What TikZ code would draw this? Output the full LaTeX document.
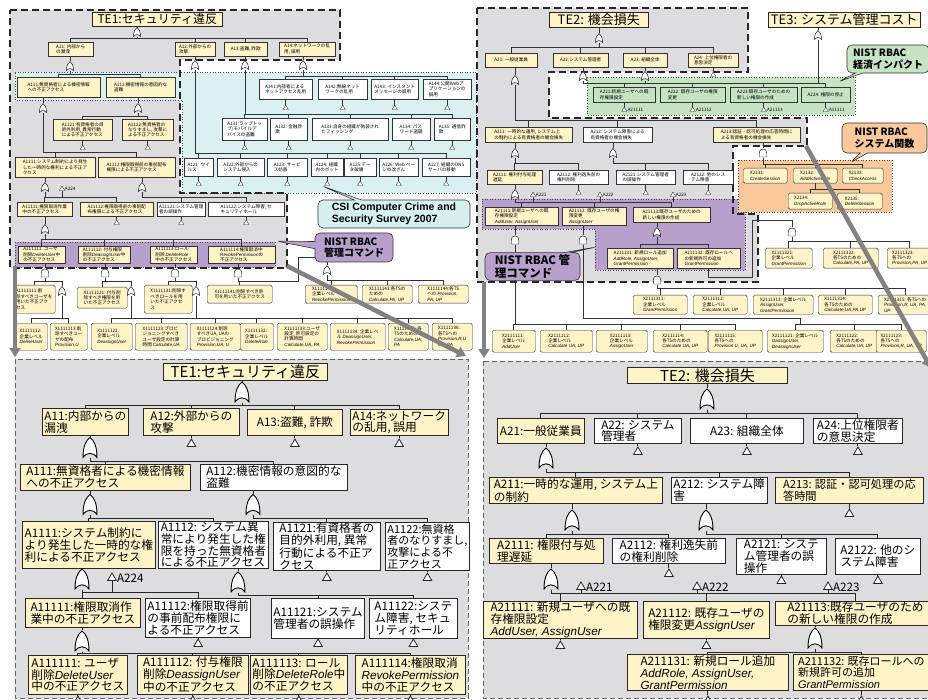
\documentclass[tikz,border=0pt]{standalone}
\usepackage{fontspec}
\setmainfont{Noto Sans CJK JP}
\newfontfamily\lsans{Liberation Sans}
\newcommand{\rbac}[1]{{\lsans\itshape #1}}
\usetikzlibrary{shapes.geometric, shapes.callouts, arrows.meta, positioning, calc}
\definecolor{regiongray}{RGB}{221,221,223}
\definecolor{regionblue}{RGB}{219,240,241}
\definecolor{regionpurple}{RGB}{184,160,204}
\definecolor{regiongreen}{RGB}{198,228,196}
\definecolor{regionorange}{RGB}{249,201,156}
\definecolor{boxyellow}{RGB}{255,244,200}
\definecolor{calloutblue}{RGB}{214,239,240}
\definecolor{arrowgray}{RGB}{130,130,130}

\begin{document}
\begin{tikzpicture}[x=1pt, y=-1pt,
  wh/.style 2 args={minimum width=#1pt, minimum height=#2pt},
  ov/.style={draw=black!80, line width=.4pt, fill=white, font=\fontsize{4.6}{5.4}\selectfont, inner sep=.8pt, align=left, anchor=north west},
  ovy/.style={ov, fill=boxyellow},
  ovg/.style={ov, fill=regiongreen},
  ovx/.style={ov, fill=boxyellow, rounded corners=1.5pt},
  ttl/.style={draw=black!85, line width=.6pt, fill=boxyellow, font=\fontsize{12}{13}\selectfont, inner sep=1pt, align=left, anchor=north west},
  ttlb/.style={ttl, line width=.9pt, font=\fontsize{15}{16}\selectfont},
  bx/.style={draw=black!85, line width=.8pt, fill=white, font=\fontsize{11.7}{11.8}\selectfont, inner xsep=2pt, inner ysep=.5pt, align=left, anchor=north west},
  bxy/.style={bx, fill=boxyellow},
  ln/.style={draw=black!80, line width=.45pt},
  lnb/.style={draw=black!85, line width=.9pt},
  orshape/.style={inner sep=0pt, draw, draw opacity=0, path picture={
    \draw[fill=white, draw opacity=1, line width=#1]
      let \p1=([shift={(.5pt,.5pt)}]path picture bounding box.south west),
          \p2=([shift={(-.5pt,-.5pt)}]path picture bounding box.north east) in
      (\x1,\y1) .. controls (\x1,{\y1+0.55*(\y2-\y1)}) and ({\x1+0.2*(\x2-\x1)},{\y1+0.85*(\y2-\y1)}) .. ({0.5*(\x1+\x2)},\y2)
      .. controls ({\x2-0.2*(\x2-\x1)},{\y1+0.85*(\y2-\y1)}) and (\x2,{\y1+0.55*(\y2-\y1)}) .. (\x2,\y1)
      .. controls ({\x2-0.3*(\x2-\x1)},{\y1+0.28*(\y2-\y1)}) and ({\x1+0.3*(\x2-\x1)},{\y1+0.28*(\y2-\y1)}) .. cycle;}},
  andshape/.style={inner sep=0pt, draw, draw opacity=0, path picture={
    \draw[fill=white, draw opacity=1, line width=#1]
      let \p1=([shift={(.5pt,.5pt)}]path picture bounding box.south west),
          \p2=([shift={(-.5pt,-.5pt)}]path picture bounding box.north east) in
      (\x1,\y1) -- (\x1,{\y1+0.45*(\y2-\y1)}) .. controls (\x1,{\y1+0.9*(\y2-\y1)}) and ({\x1+0.2*(\x2-\x1)},\y2) .. ({0.5*(\x1+\x2)},\y2)
      .. controls ({\x2-0.2*(\x2-\x1)},\y2) and (\x2,{\y1+0.9*(\y2-\y1)}) .. (\x2,{\y1+0.45*(\y2-\y1)}) -- (\x2,\y1) -- cycle;}},
  ogs/.style={orshape=.45pt, minimum width=8pt, minimum height=10pt},
  ogl/.style={orshape=.9pt, minimum width=15pt, minimum height=21pt},
  ags/.style={andshape=.45pt, minimum width=8pt, minimum height=9pt},
  trs/.style={regular polygon, regular polygon sides=3, draw=black!80, fill=white, inner sep=0pt, minimum size=6pt, line width=.4pt},
  trl/.style={regular polygon, regular polygon sides=3, draw=black!85, fill=white, inner sep=0pt, minimum size=10pt, line width=.8pt},
  tlab/.style={font=\fontsize{4.6}{5}\selectfont, inner sep=.3pt},
  tlabb/.style={font=\fontsize{11.7}{12}\selectfont, inner sep=.5pt},
  bubble/.style={rectangle callout, rounded corners=5pt, draw=black!80, line width=.6pt, align=left, inner sep=2pt, font=\bfseries\fontsize{10}{11.5}\selectfont},
  zoomarrow/.style={draw=arrowgray, line width=4.5pt, -{Triangle[width=11pt,length=9pt]}}
]
\fill[white] (0,0) rectangle (928,700);
\useasboundingbox (0,0) rectangle (928,700);

% ---------- overview TE1 ----------
\fill[regiongray] (10,10) -- (340,10) -- (340,60) -- (180,60) -- (180,193) -- (287,193) -- (287,268) -- (10,268) -- cycle;
\filldraw[fill=regionblue, draw=black!70, line width=.6pt, dotted] (15,72) -- (476,72) -- (476,193) -- (182,193) -- (182,100) -- (15,100) -- cycle;
\filldraw[fill=regionpurple, draw=black!70, line width=.6pt, dotted] (15,242) rectangle (275,267);
\draw[black!85, line width=1.8pt, dash pattern=on 7pt off 4pt] (10,10) -- (340,10) -- (340,60) -- (180,60) -- (180,193) -- (287,193) -- (287,268) -- (10,268) -- cycle;

\node[ttl, wh={130}{14}] (te1o) at (92,12) {TE1:セキュリティ違反};
\node[ogs] (g1o) at (137,32) {};
\node[ovy, wh={45}{14}] (a11o) at (48,42) {A11: 内部から\\の漏洩};
\node[ovy, wh={40}{14}] (a12o) at (175,42) {A12:外部からの\\攻撃};
\node[ovy, wh={43}{14}] (a13o) at (224,42) {A13:盗難, 詐欺};
\node[ovy, wh={56}{14}] (a14o) at (279,42) {A14:ネットワークの乱\\用, 誤用};
\draw[ln] (te1o.south -| g1o) -- (g1o.north);
\foreach \c in {a11o,a12o,a13o,a14o} \draw[ln] (g1o.south) -- ++(0,1) -| (\c.north);

\node[ogs] (g11o) at (70,66) {};
\node[ogs] (g12o) at (195,65) {};
\node[ogs] (g13o) at (245,65) {};
\node[ogs] (g14o) at (303,65) {};
\foreach \a/\g in {a11o/g11o,a12o/g12o,a13o/g13o,a14o/g14o} \draw[ln] (\a.south -| \g) -- (\g.north);

\node[ovy, wh={83}{20}] (a111o) at (17,77) {A111:無資格者による機密情報\\への不正アクセス};
\node[ovy, wh={69}{20}] (a112o) at (106,77) {A112:機密情報の意図的な\\盗難};
\foreach \c in {a111o,a112o} \draw[ln] (g11o.south) -- ++(0,3) -| (\c.north);
\node[ogs] (g111o) at (43,108) {};
\node[ogs] (g112o) at (138,108) {};
\draw[ln] (a111o.south -| g111o) -- (g111o.north);
\draw[ln] (a112o.south -| g112o) -- (g112o.north);
\node[ovy, wh={59}{21}] (a1121o) at (53,119) {A1121:有資格者の目\\的外利用, 異常行動\\による不正アクセス};
\node[ovy, wh={51}{21}] (a1122o) at (122,119) {A1122:無資格者の\\なりすまし, 攻撃に\\よる不正アクセス};
\foreach \c in {a1121o,a1122o} \draw[ln] (g112o.south) -- ++(0,3) -| (\c.north);
\node[trs] (ta1121o) at (a1121o.south |- 0,148) {};
\node[trs] (ta1122o) at (a1122o.south |- 0,148) {};
\node[ovy, wh={80}{20}] (a1111o) at (15,157) {A1111:システム制約により発生\\した一時的な権利による不正ア\\クセス};
\node[ovy, wh={77}{20}] (a1112o) at (98,157) {A1112:権限取得前の事前配布\\権限による不正アクセス};
\foreach \c in {a1111o,a1112o} \draw[ln] (g111o.south) -- ++(0,39) -| (\c.north);
\node[ogs] (g1111o) at (45,187) {};
\node[ogs] (g1112o) at (142,187) {};
\draw[ln] (a1111o.south -| g1111o) -- (g1111o.north);
\draw[ln] (a1112o.south -| g1112o) -- (g1112o.north);
\node[trs] (ta224o) at (62,189) {};
\node[tlab, right=.5pt of ta224o] (la224o) {A224};
\node[ovy, wh={55}{14}] (a11111o) at (17,202) {A11111:権限取消作業\\中の不正アクセス};
\node[ovy, wh={73}{14}] (a11112o) at (80,202) {A11112:権限取得前の事前配\\布権限による不正アクセス};
\node[ov, wh={48}{14}] (a11121o) at (157,202) {A11121:システム管理\\者の誤操作};
\node[ov, wh={76}{14}] (a11122o) at (208,202) {A11122:システム障害, セ\\キュリティホール};
\foreach \c in {a11111o,a11112o} \draw[ln] (g1111o.south) -- ++(0,5) -| (\c.north);
\foreach \c in {a11121o,a11122o} \draw[ln] (g1112o.south) -- ++(0,5) -| (\c.north);
\draw[ln] (ta224o.side 2) -- (ta224o.side 2 |- 0,197);
\node[trs] (ta11112o) at (a11112o.south |- 0,223) {};
\node[trs] (ta11121o) at (a11121o.south |- 0,223) {};
\node[trs] (ta11122o) at (a11122o.south |- 0,223) {};
\node[ogs] (g11111o) at (45,229) {};
\draw[ln] (a11111o.south -| g11111o) -- (g11111o.north);
\node[ovy, wh={47}{17}] (a111111o) at (18,246) {A111111: ユーザ\\削除\rbac{DeleteUser}中\\の不正アクセス};
\node[ovy, wh={52}{17}] (a111112o) at (78,246) {A111112: 付与権限\\削除\rbac{DeassignUser}中\\の不正アクセス};
\node[ovy, wh={47}{17}] (a111113o) at (150,246) {A111113:ロール\\削除 \rbac{DeleteRole}\\中の不正アクセス};
\node[ovy, wh={67}{17}] (a111114o) at (208,246) {A111114:権限取消中\\\rbac{RevokePermission}の\\不正アクセス};
\foreach \c in {a111111o,a111112o,a111113o,a111114o} \draw[ln] (g11111o.south) -- ++(0,5) -| (\c.north);

% blue region of TE1
\node[ov, wh={53}{20}] (a141o) at (259,79) {A141:内部者による\\ネットアクセス乱用};
\node[ov, wh={49}{20}] (a142o) at (318,79) {A142:無線ネット\\ワークの乱用};
\node[ov, wh={47}{20}] (a143o) at (371,79) {A143: インスタント\\メッセージの誤用};
\node[ov, wh={48}{20}] (a144o) at (423,79) {A144:公開Webア\\プリケーションの\\誤用};
\foreach \c in {a141o,a142o,a143o,a144o} \draw[ln] (g14o.south) -- ++(0,6) -| (\c.north);
\node[ov, wh={45}{22}] (a131o) at (222,118) {A131:ラップトッ\\プ/モバイルデ\\バイスの盗難};
\node[ov, wh={37}{22}] (a132o) at (270,118) {A132: 金融詐\\欺};
\node[ov, wh={76}{22}] (a133o) at (312,118) {A133:自身の組織が偽装され\\たフィッシング};
\node[ov, wh={38}{22}] (a134o) at (392,118) {A134: パス\\ワード盗聴};
\node[ov, wh={36}{22}] (a135o) at (434,118) {A135: 通信詐\\欺};
\foreach \c in {a131o,a132o,a133o,a134o,a135o} \draw[ln] (g13o.south) -- ++(0,44) -| (\c.north);
\node[ov, wh={29}{18}] (a121o) at (184,158) {A121: ウイ\\ルス};
\node[ov, wh={47}{18}] (a122o) at (217,158) {A122:外部からの\\システム侵入};
\node[ov, wh={40}{18}] (a123o) at (267,158) {A123: サービ\\ス妨害};
\node[ov, wh={32}{18}] (a124o) at (311,158) {A124: 組織\\内のボット};
\node[ov, wh={32}{18}] (a125o) at (344,158) {A125:デー\\タ破壊};
\node[ov, wh={39}{18}] (a126o) at (379,158) {A126: Web ペー\\ジの改ざん};
\node[ov, wh={48}{18}] (a127o) at (422,158) {A127: 組織のDNS\\サーバの移動};
\foreach \c in {a121o,a122o,a123o,a124o,a125o,a126o,a127o} \draw[ln] (g12o.south) -- ++(0,83) -| (\c.north);
\foreach \b/\y in {a141o/108,a142o/108,a143o/108,a144o/108,a131o/148,a132o/148,a133o/148,a134o/148,a135o/148,a121o/184,a122o/184,a123o/184,a124o/184,a125o/184,a126o/184,a127o/184} {
  \node[trs] (t\b) at (\b.south |- 0,\y) {};
  \draw[ln] (\b.south) -- (t\b.corner 1);
}
\foreach \b in {a1121o,a1122o,a11112o,a11121o,a11122o} \draw[ln] (\b.south) -- (t\b.corner 1);

% gates and X events below the purple band
\node[ags] (ga111111o) at (45,273) {};
\node[ags] (ga111112o) at (105,273) {};
\node[ags] (ga111113o) at (175,273) {};
\node[ags] (ga111114o) at (238,273) {};
\foreach \g/\a in {ga111111o/a111111o,ga111112o/a111112o,ga111113o/a111113o,ga111114o/a111114o} \draw[ln] (\a.south -| \g) -- (\g.north);
\node[ogs] (gb111111o) at (62,291) {};
\node[ogs] (gb111112o) at (131,291) {};
\node[ogs] (gb111113o) at (196,291) {};
\node[ogs] (gb111114o) at (327,270) {};
\node[ovx, wh={42}{28}] (x1111111o) at (13,285) {X1111111:削\\除すべきユーザを\\用いた不正アク\\セス};
\node[ovx, wh={50}{21}] (x1111121o) at (77,287) {X1111121: 付与削\\除すべき権限を用\\いた不正アクセス};
\node[ovx, wh={48}{28}] (x1111131o) at (144,285) {X1111131:削除す\\べきロールを用\\いた不正アクセ\\ス};
\node[ovx, wh={65}{18}] (x1111141o) at (207,285) {X1111141:削除すべき許\\可を用いた不正アクセス};
\node[ovx, wh={52}{18}] (x1111142o) at (305,285) {X1111142:\\企業レベル\\\rbac{RevokePermission}};
\node[ovx, wh={50}{18}] (x1111143o) at (362,285) {X1111143:各TSの\\ための\\\rbac{Calculate,PA, UP}};
\node[ovx, wh={50}{18}] (x1111144o) at (418,285) {X1111144:各TS\\への \rbac{Provision,}\\\rbac{PA, UP}};
\foreach \c in {x1111111o,gb111111o} \draw[ln] (ga111111o.south) -- ++(0,4) -| (\c.north);
\foreach \c in {x1111121o,gb111112o} \draw[ln] (ga111112o.south) -- ++(0,4) -| (\c.north);
\foreach \c in {x1111131o,gb111113o} \draw[ln] (ga111113o.south) -- ++(0,4) -| (\c.north);
\draw[ln] (ga111114o.south) -- ++(0,4) -| (x1111141o.north);
\draw[ln] (ga111114o.south) -- ++(0,4) -- ++(60,0) |- (gb111114o.north |- 0,257) -- (gb111114o.north);
\foreach \c in {x1111142o,x1111143o,x1111144o} \draw[ln] (gb111114o.south) -- ++(0,5) -| (\c.north);
\node[ovx, wh={32}{27}] (x1111112o) at (15,323) {X1111112:\\企業レベル\\\rbac{DeleteUser}};
\node[ovx, wh={37}{27}] (x1111113o) at (50,323) {X1111113:削\\除すべきユー\\ザの配布\\\rbac{Provision,U}};
\node[ovx, wh={41}{27}] (x1111122o) at (91,323) {X1111122:\\企業レベル\\\rbac{DeassignUser}};
\node[ovx, wh={52}{27}] (x1111123o) at (135,323) {X1111123:プロビ\\ジョニングすべき\\ユーザ設定の計算\\時間 \rbac{Calculate,UA}};
\node[ovx, wh={50}{27}] (x1111124o) at (190,323) {X1111124:削除\\すべきUA, UAの\\プロビジョニング\\\rbac{Provision,UA, U}};
\node[ovx, wh={33}{27}] (x1111132o) at (240,323) {X1111132:\\企業レベル\\\rbac{DeleteRole}};
\node[ovx, wh={50}{27}] (x1111133o) at (277,323) {X1111133:ユーザ\\設定, 許可設定の\\計算時間\\\rbac{Calculate,UA, PA}};
\node[ovx, wh={55}{27}] (x1111134o) at (330,323) {X1111134: 企業レベ\\ル \rbac{DeassignUser,}\\\rbac{RevokePermission}};
\node[ovx, wh={40}{27}] (x1111135o) at (388,323) {X1111135: 各\\TSのための\\\rbac{Calculate,UA,}\\\rbac{PA}};
\node[ovx, wh={40}{27}] (x1111136o) at (432,323) {X1111136:\\各TSへの\\\rbac{Provision,R,U}\\\rbac{UA, PA}};
\foreach \c in {x1111112o,x1111113o} \draw[ln] (gb111111o.south) -- ++(0,22) -| (\c.north);
\foreach \c in {x1111122o,x1111123o,x1111124o} \draw[ln] (gb111112o.south) -- ++(0,22) -| (\c.north);
\foreach \c in {x1111132o,x1111133o,x1111134o,x1111135o,x1111136o} \draw[ln] (gb111113o.south) -- ++(0,22) -| (\c.north);

\node[bubble, fill=calloutblue, callout absolute pointer={(322,186)}, font=\lsans\bfseries\fontsize{10.5}{12}\selectfont, minimum width=152pt, minimum height=28pt] (csi) at (394,214) {CSI Computer Crime and\\Security Survey 2007};
\node[bubble, fill=regionpurple, callout absolute pointer={(276,241)}, minimum width=78pt, minimum height=29pt] (nistcmd1) at (354,247.5) {NIST RBAC\\管理コマンド};

% ---------- overview TE2 / TE3 ----------
\fill[regiongray] (477,8) -- (748,8) -- (748,72) -- (549,72) -- (549,118) -- (807,118) -- (807,146) -- (733,146) -- (733,214) -- (758,214) -- (758,282) -- (477,282) -- cycle;
\filldraw[fill=regiongreen, draw=black!70, line width=.6pt, dotted] (587,77) rectangle (855,115);
\filldraw[fill=regionpurple, draw=black!70, line width=.6pt, dotted] (482,199) -- (745,199) -- (745,270) -- (595,270) -- (595,229) -- (482,229) -- cycle;
\filldraw[fill=regionorange, draw=black!70, line width=.6pt, dotted] (738,160) rectangle (892,212);
\draw[black!85, line width=1.8pt, dash pattern=on 7pt off 4pt] (477,8) -- (748,8) -- (748,72) -- (549,72) -- (549,118) -- (807,118) -- (807,146) -- (733,146) -- (733,214) -- (758,214) -- (758,282) -- (477,282) -- cycle;

\node[ttl, wh={99}{15}, font=\fontsize{13}{14}\selectfont] (te2o) at (549,12) {TE2: 機会損失};
\node[ogs] (g2o) at (599,38) {};
\node[ovy, wh={52}{14}] (a21o) at (485,53) {A21: 一般従業員};
\node[ovy, wh={55}{14}] (a22o) at (553,53) {A22:システム管理者};
\node[ovy, wh={44}{14}] (a23o) at (623,53) {A23: 組織全体};
\node[ovy, wh={50}{14}] (a24o) at (688,53) {A24: 上位権限者の\\意思決定};
\draw[ln] (te2o.south -| g2o) -- (g2o.north);
\foreach \c in {a21o,a22o,a23o,a24o} \draw[ln] (g2o.south) -- ++(0,4) -| (\c.north);
\node[trs] (t24o) at (a24o.south |- 0,75) {};
\draw[ln] (a24o.south) -- (t24o.corner 1);
\node[ttl, wh={152}{15}, font=\fontsize{13}{14}\selectfont] (te3o) at (768,12) {TE3: システム管理コスト};
\node[ogs] (g3o) at (818,35) {};
\draw[ln] (te3o.south -| g3o) -- (g3o.north);
\draw[ln] (g3o.south) -- (g3o.south |- 0,83);
\node[ogs] (g22o) at (583,76) {};
\node[ogs] (g23o) at (645,76) {};
\draw[ln] (a22o.south -| g22o) -- (g22o.north);
\draw[ln] (a23o.south -| g23o) -- (g23o.north);
\node[ovg, wh={62}{15}] (a221o) at (593,87) {A221:新規ユーザへの既\\存権限設定};
\node[ovg, wh={65}{15}] (a222o) at (660,87) {A222: 既存ユーザの権限\\変更};
\node[ovg, wh={67}{15}] (a223o) at (730,87) {A223:既存ユーザのための\\新しい権限の作成};
\node[ovg, wh={49}{15}] (a224o) at (801,87) {A224: 権限の停止};
\foreach \c in {a221o,a222o,a223o,a224o} \draw[ln] (g22o.south) -- ++(0,2) -| (\c.north);
\draw[ln] (g23o.south) -- ++(0,2);
\foreach \b/\l in {a221o/A21111,a222o/A21112,a223o/A21113,a224o/A11111} {
  \node[trs] (t\b) at (\b.south |- 0,110) {};
  \node[tlab, right=1pt of t\b] (l\b) {\l};
  \draw[ln] (\b.south) -- (t\b.corner 1);
}

\node[ogs] (g21o) at (515,80) {};
\draw[ln] (a21o.south -| g21o) -- (g21o.north);
\node[ovy, wh={87}{15}] (a211o) at (485,127) {A211: 一時的な運用, システム上\\の制約による有資格者の機会損失};
\node[ov, wh={69}{15}] (a212o) at (583,127) {A212: システム障害による\\有資格者の機会損失};
\node[ovy, wh={87}{15}] (a213o) at (713,127) {A213:認証・認可処理の応答時間に\\よる有資格者の機会損失};
\foreach \c in {a211o,a212o,a213o} \draw[ln] (g21o.south) -- ++(0,35) -| (\c.north);
\node[ogs] (g211o) at (515,153) {};
\node[ogs] (g212o) at (613,153) {};
\node[ags] (g213o) at (763,153) {};
\foreach \a/\g in {a211o/g211o,a212o/g212o,a213o/g213o} \draw[ln] (\a.south -| \g) -- (\g.north);
\node[ovy, wh={55}{14}] (a2111o) at (487,170) {A2111: 権利付与処理\\遅延};
\node[ov, wh={59}{14}] (a2112o) at (549,170) {A2112: 権利逸失前の\\権利削除};
\node[ov, wh={59}{14}] (a2121o) at (616,170) {A2121:システム管理者\\の誤操作};
\node[ov, wh={50}{14}] (a2122o) at (683,170) {A2122: 他のシス\\テム障害};
\foreach \c in {a2111o,a2112o} \draw[ln] (g211o.south) -- ++(0,5) -| (\c.north);
\foreach \c in {a2121o,a2122o} \draw[ln] (g212o.south) -- ++(0,5) -| (\c.north);
\foreach \b in {a2112o,a2121o,a2122o} {
  \node[trs] (t\b) at (\b.south |- 0,193) {};
  \draw[ln] (\b.south) -- (t\b.corner 1);
}
\node[ovx, wh={44}{15}] (x2131o) at (743,168) {X2131:\\\rbac{CreateSession}};
\node[ovx, wh={44}{15}] (x2132o) at (793,168) {X2132:\\\rbac{AddActiveRole}};
\node[ovx, wh={41}{15}] (x2133o) at (842,168) {X2133:\\\rbac{CheckAccess}};
\node[ovx, wh={44}{16}] (x2134o) at (788,193) {X2134:\\\rbac{DropActiveRole}};
\node[ovx, wh={45}{16}] (x2135o) at (837,193) {X2135:\\\rbac{DeleteSession}};
\foreach \c in {x2131o,x2132o,x2133o} \draw[ln] (g213o.south) -- ++(0,7) -| (\c.north);
\draw[ln] (x2132o.south) -- ++(0,6) -| (x2135o.north);
\draw[ln] (x2132o.south) ++(0,6) -| (x2134o.north);

\node[ogs] (g2111o) at (515,194) {};
\draw[ln] (a2111o.south -| g2111o) -- (g2111o.north);
\node[ovy, wh={73}{18}] (a21111o) at (485,207) {A21111:新規ユーザへの既\\存権限設定\\\rbac{AddUser, AssignUser}};
\node[ovy, wh={64}{18}] (a21112o) at (562,207) {A21112: 既存ユーザの権\\限変更\\\rbac{AssignUser}};
\node[ovy, wh={77}{15}] (a21113o) at (633,207) {A21113:既存ユーザのための\\新しい権限の作成};
\foreach \c in {a21111o,a21112o,a21113o} \draw[ln] (g2111o.south) -- ++(0,3) -| (\c.north);
\foreach \n/\x/\l in {ta221o/533/A221,ta222o/600/A222,ta223o/673/A223} {
  \node[trs] (\n) at (\x,195) {};
  \node[tlab, right=.5pt of \n] (l\n) {\l};
  \draw[ln] (\n.side 2) -- (\n.side 2 |- 0,202);
}
\node[ags] (g21111o) at (515,240) {};
\node[ags] (g21112o) at (583,240) {};
\node[ogs] (g21113o) at (657,232) {};
\foreach \a/\g in {a21111o/g21111o,a21112o/g21112o,a21113o/g21113o} \draw[ln] (\a.south -| \g) -- (\g.north);
\node[ovy, wh={66}{20}] (a211131o) at (607,248) {A211131: 新規ロール追加\\\rbac{AddRole, AssignUser,}\\\rbac{GrantPermission}};
\node[ovy, wh={63}{20}] (a211132o) at (677,248) {A211132: 既存ロールへ\\の新規許可の追加\\\rbac{GrantPermission}};
\foreach \c in {a211131o,a211132o} \draw[ln] (g21113o.south) -- ++(0,7) -| (\c.north);
\node[ags] (g211131o) at (657,280) {};
\node[ags] (g211132o) at (792,232) {};
\draw[ln] (a211131o.south -| g211131o) -- (g211131o.north);
\draw[ln] (a211132o.south) -- ++(0,9) -| (752,220) -| (g211132o.north);
\node[ovx, wh={54}{19}] (x2111311o) at (633,295) {X2111311:\\企業レベル\\\rbac{GrantPermission}};
\node[ovx, wh={54}{19}] (x2111312o) at (693,295) {X2111312:\\企業レベル\\\rbac{Calculate,UA, UP}};
\node[ovx, wh={60}{19}] (x2111313o) at (753,295) {X2111313: 企業レベル\\\rbac{AssignUser,}\\\rbac{GrantPermission}};
\node[ovx, wh={54}{19}] (x2111314o) at (818,295) {X2111314:\\各TSのための\\\rbac{Calculate,UA,PA,UP}};
\node[ovx, wh={54}{19}] (x2111315o) at (878,295) {X2111315: 各TSへの\\\rbac{Provision,R, UA, PA,}\\\rbac{UP}};
\foreach \c in {x2111311o,x2111312o,x2111313o,x2111314o,x2111315o} \draw[ln] (g211131o.south) -- ++(0,3.5) -| (\c.north);
\node[ovx, wh={47}{20}] (x2111321o) at (765,248) {X2111321:\\企業レベル\\\rbac{GrantPermission}};
\node[ovx, wh={55}{20}] (x2111322o) at (823,248) {X2111322:\\各TSのための\\\rbac{Calculate,PA, UP}};
\node[ovx, wh={45}{20}] (x2111323o) at (887,248) {X2111323:\\各TSへの\\\rbac{Provision,PA, UP}};
\foreach \c in {x2111321o,x2111322o,x2111323o} \draw[ln] (g211132o.south) -- ++(0,5) -| (\c.north);
\node[ovx, wh={43}{22}] (x2111111o) at (492,330) {X2111111:\\企業レベル\\\rbac{AddUser}};
\node[ovx, wh={52}{22}] (x2111112o) at (540,330) {X2111112:\\企業レベル\\\rbac{Calculate UA, UP}};
\node[ovx, wh={51}{22}] (x2111113o) at (596,330) {X2111113:\\企業レベル\\\rbac{AssignUser}};
\node[ovx, wh={54}{22}] (x2111114o) at (653,330) {X2111114:\\各TSのための\\\rbac{Calculate UA, UP}};
\node[ovx, wh={54}{22}] (x2111115o) at (708,330) {X2111115:\\各TSへの\\\rbac{Provision U, UA, UP}};
\node[ovx, wh={56}{22}] (x2111121o) at (767,330) {X2111121: 企業レベル\\\rbac{DassignUser,}\\\rbac{DeassignUser}};
\node[ovx, wh={48}{22}] (x2111122o) at (830,330) {X2111122:\\各TSのための\\\rbac{Calculate,UA, UP}};
\node[ovx, wh={50}{22}] (x2111123o) at (876,330) {X2111123:\\各TSへの\\\rbac{Provision,R, UA, UP}};
\foreach \c in {x2111111o,x2111112o,x2111113o,x2111114o,x2111115o} \draw[ln] (g21111o.south) -- ++(0,79.5) -| (\c.north);
\foreach \c in {x2111121o,x2111122o,x2111123o} \draw[ln] (g21112o.south) |- (800,318) -- (800,324) -| (\c.north);

\node[bubble, fill=regiongreen, callout absolute pointer={(838,82)}, minimum width=82pt, minimum height=28pt] (nisteco) at (888,59) {NIST RBAC\\経済インパクト};
\node[bubble, fill=regionorange, callout absolute pointer={(850,163)}, minimum width=85pt, minimum height=30pt] (nistsys) at (884.5,138) {NIST RBAC\\システム関数};
\node[bubble, fill=regionpurple, callout absolute pointer={(596,247)}, font=\bfseries\fontsize{11.5}{13}\selectfont, minimum width=95pt, minimum height=27pt] (nistcmd2) at (532.5,266.5) {NIST RBAC 管\\理コマンド};

% ---------- detail TE1 ----------
\filldraw[fill=regiongray, draw=black!60, line width=.8pt, dash pattern=on 5pt off 3pt] (15,359) rectangle (468,698);
\node[ttlb, wh={164}{17}] (te1b) at (163,363) {TE1:セキュリティ違反};
\node[ogl] (g1b) at (242,392) {};
\draw[lnb] (te1b.south -| g1b) -- (g1b.north);
\node[bxy, wh={86}{27}] (a11b) at (42,408) {A11:内部からの\\漏洩};
\node[bxy, wh={96}{27}] (a12b) at (143,408) {A12:外部からの\\攻撃};
\node[bxy, wh={95}{26}] (a13b) at (247,409) {A13:盗難, 詐欺};
\node[bxy, wh={95}{26}] (a14b) at (350,409) {A14:ネットワーク\\の乱用, 誤用};
\foreach \c in {a11b,a12b,a13b,a14b} \draw[lnb] (g1b.south) -- ++(0,2.5) -| (\c.north);
\node[ogl] (g11b) at (90,447.5) {};
\draw[lnb] (a11b.south -| g11b) -- (g11b.north);
\node[bxy, wh={170}{26}] (a111b) at (20,464) {A111:無資格者による機密情報\\への不正アクセス};
\node[bx, wh={147}{26}] (a112b) at (200,464) {A112:機密情報の意図的な\\盗難};
\foreach \c in {a111b,a112b} \draw[lnb] (g11b.south) -- ++(0,3) -| (\c.north);
\node[ogl] (g111b) at (90,504.5) {};
\node[ogl] (g112b) at (253,504.5) {};
\draw[lnb] (a111b.south -| g111b) -- (g111b.north);
\draw[lnb] (a112b.south -| g112b) -- (g112b.north);
\node[bxy, wh={133}{47}] (a1111b) at (22,521) {A1111:システム制約に\\より発生した一時的な権\\利による不正アクセス};
\node[bx, wh={110}{47}] (a1112b) at (158,521) {A1112: システム異\\常により発生した権\\限を持った無資格者\\による不正アクセス};
\node[bx, wh={107}{48}] (a1121b) at (273,522) {A1121:有資格者の\\目的外利用, 異常\\行動による不正ア\\クセス};
\node[bx, wh={82}{48}, font=\fontsize{11}{11.8}\selectfont] (a1122b) at (385,522) {A1122:無資格\\者のなりすまし,\\攻撃による不\\正アクセス};
\foreach \c in {a1111b,a1112b} \draw[lnb] (g111b.south) -- ++(0,3) -| (\c.north);
\foreach \c in {a1121b,a1122b} \draw[lnb] (g112b.south) -- ++(0,3) -| (\c.north);
\node[ogl] (g1111b) at (82,579) {};
\node[ogl] (g1112b) at (238,582) {};
\draw[lnb] (a1111b.south -| g1111b) -- (g1111b.north);
\draw[lnb] (a1112b.south -| g1112b) -- (g1112b.north);
\node[trl] (ta224b) at (112,578) {};
\node[tlabb, right=1pt of ta224b] (la224b) {A224};
\node[bxy, wh={115}{29}] (a11111b) at (25,598) {A11111:権限取消作\\業中の不正アクセス};
\node[bx, wh={105}{39}] (a11112b) at (145,598) {A11112:権限取得前\\の事前配布権限に\\よる不正アクセス};
\node[bx, wh={91}{40}] (a11121b) at (271,598) {A11121:システム\\管理者の誤操作};
\node[bx, wh={88}{40}] (a11122b) at (369,598) {A11122:システ\\ム障害, セキュ\\リティホール};
\foreach \c in {a11111b,a11112b} \draw[lnb] (g1111b.south) -- ++(0,3) -| (\c.north);
\draw[lnb] (ta224b.side 2) -- (ta224b.side 2 |- 0,592.5);
\foreach \c in {a11121b,a11122b} \draw[lnb] (g1112b.south) -- ++(0,3) -| (\c.north);
\node[ogl] (g11111b) at (82,641) {};
\draw[lnb] (a11111b.south -| g11111b) -- (g11111b.north);
\node[bxy, wh={99}{39}] (a111111b) at (28,655) {A111111: ユーザ\\削除\rbac{DeleteUser}\\中の不正アクセス};
\node[bxy, wh={111}{39}] (a111112b) at (137,655) {A111112: 付与権限\\削除\rbac{DeassignUser}\\中の不正アクセス};
\node[bxy, wh={97}{39}] (a111113b) at (250,655) {A111113: ロール\\削除\rbac{DeleteRole}中\\の不正アクセス};
\node[bxy, wh={110}{39}] (a111114b) at (355,655) {A111114:権限取消\\\rbac{RevokePermission}\\中の不正アクセス};
\foreach \c in {a111111b,a111112b,a111113b,a111114b} \draw[lnb] (g11111b.south) -- ++(0,1.5) -| (\c.north);
\foreach \b/\y in {a12b/444,a13b/444,a14b/444,a1121b/578,a1122b/578,a11112b/644,a11121b/644,a11122b/644,a111111b/701,a111112b/701,a111113b/701,a111114b/701} {
  \node[trl] (t\b) at (\b.south |- 0,\y) {};
  \draw[lnb] (\b.south) -- (t\b.corner 1);
}

% ---------- detail TE2 ----------
\filldraw[fill=regiongray, draw=black!60, line width=.8pt, dash pattern=on 5pt off 3pt] (483,361) rectangle (945,698);
\node[ttlb, wh={160}{16}] (te2b) at (627,367) {TE2: 機会損失};
\node[ogl] (g2b) at (707,399) {};
\draw[lnb] (te2b.south -| g2b) -- (g2b.north);
\node[bxy, wh={87}{25}] (a21b) at (497,418) {A21:一般従業員};
\node[bx, wh={87}{25}] (a22b) at (594,418) {A22: システム\\管理者};
\node[bx, wh={113}{25}] (a23b) at (690,418) {A23: 組織全体};
\node[bx, wh={89}{25}] (a24b) at (813,418) {A24:上位権限者\\の意思決定};
\foreach \c in {a21b,a22b,a23b,a24b} \draw[lnb] (g2b.south) -- ++(0,3.5) -| (\c.north);
\node[ogl] (g21b) at (546,458) {};
\draw[lnb] (a21b.south -| g21b) -- (g21b.north);
\node[bxy, wh={173}{26}] (a211b) at (489,477) {A211:一時的な運用, システム上\\の制約};
\node[bx, wh={93}{26}] (a212b) at (671,477) {A212: システム障\\害};
\node[bxy, wh={148}{26}, font=\fontsize{11.2}{11.8}\selectfont] (a213b) at (775,477) {A213: 認証・認可処理の応\\答時間};
\foreach \c in {a211b,a212b,a213b} \draw[lnb] (g21b.south) -- ++(0,3.5) -| (\c.north);
\node[ogl] (g211b) at (572,520) {};
\node[ogl] (g212b) at (706,520) {};
\draw[lnb] (a211b.south -| g211b) -- (g211b.north);
\draw[lnb] (a212b.south -| g212b) -- (g212b.north);
\node[bxy, wh={114}{25}] (a2111b) at (489,538) {A2111: 権限付与処\\理遅延};
\node[bx, wh={113}{25}] (a2112b) at (612,538) {A2112: 権利逸失前\\の権利削除};
\node[bx, wh={90}{36}] (a2121b) at (736,538) {A2121: システ\\ム管理者の誤\\操作};
\node[bx, wh={85}{36}] (a2122b) at (835,538) {A2122: 他のシ\\ステム障害};
\foreach \c in {a2111b,a2112b} \draw[lnb] (g211b.south) -- ++(0,3.5) -| (\c.north);
\foreach \c in {a2121b,a2122b} \draw[lnb] (g212b.south) -- ++(0,3.5) -| (\c.north);
\node[ogl] (g2111b) at (551,579) {};
\draw[lnb] (a2111b.south -| g2111b) -- (g2111b.north);
\foreach \n/\x/\l in {ta221b/581/A221,ta222b/697/A222,ta223b/828/A223} {
  \node[trl] (\n) at (\x,587) {};
  \node[tlabb, right=1pt of \n] (l\n) {\l};
  \draw[lnb] (\n.side 2) -- (\n.side 2 |- 0,593);
}
\node[bxy, wh={154}{37}] (a21111b) at (483,601) {A21111: 新規ユーザへの既\\存権限設定\\\rbac{AddUser, AssignUser}};
\node[bxy, wh={126}{37}] (a21112b) at (643,601) {A21112: 既存ユーザの\\権限変更\rbac{AssignUser}};
\node[bxy, wh={160}{24}] (a21113b) at (775,601) {A21113:既存ユーザのため\\の新しい権限の作成};
\foreach \c in {a21111b,a21112b,a21113b} \draw[lnb] (g2111b.south) -- ++(0,3.5) -| (\c.north);
\node[ogl] (g21113b) at (815,638) {};
\draw[lnb] (a21113b.south -| g21113b) -- (g21113b.north);
\node[bxy, wh={161}{36}] (a211131b) at (627,654) {A211131: 新規ロール追加\\\rbac{AddRole, AssignUser,}\\\rbac{GrantPermission}};
\node[bxy, wh={136}{36}, font=\fontsize{11}{11.8}\selectfont] (a211132b) at (793,654) {A211132: 既存ロールへの\\新規許可の追加\\\rbac{GrantPermission}};
\foreach \c in {a211131b,a211132b} \draw[lnb] (g21113b.south) -- ++(0,3.5) -| (\c.north);
\foreach \b/\y in {a22b/452,a23b/452,a24b/452,a213b/514,a2112b/574,a2121b/581,a2122b/581,a21111b/646,a21112b/646,a211131b/701,a211132b/701} {
  \node[trl] (t\b) at (\b.south |- 0,\y) {};
  \draw[lnb] (\b.south) -- (t\b.corner 1);
}

% ---------- zoom arrows ----------
\draw[zoomarrow] (15,266) -- (15,357);
\draw[zoomarrow] (287,266) -- (466,356);
\draw[zoomarrow] (484,282) -- (484,358);
\draw[zoomarrow] (806,146) -- (931,368);
\end{tikzpicture}
\end{document}
